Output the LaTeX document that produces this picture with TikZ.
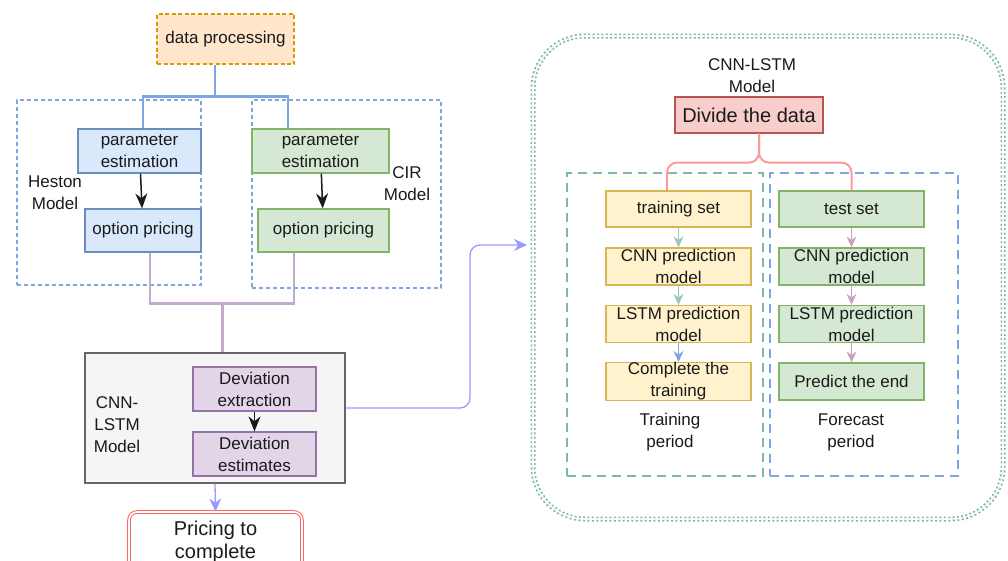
\documentclass[tikz,border=0pt]{standalone}
\usepackage{fontspec}
\setmainfont{Liberation Sans}
\usetikzlibrary{arrows.meta,calc,positioning}
\definecolor{ink}{HTML}{1A1A1A}
\definecolor{prepfill}{HTML}{FFE6CC}
\definecolor{prepline}{HTML}{D79B00}
\definecolor{hestonfill}{HTML}{DAE8FC}
\definecolor{hestonline}{HTML}{6C8EBF}
\definecolor{cirfill}{HTML}{D5E8D4}
\definecolor{cirline}{HTML}{82B366}
\definecolor{devifill}{HTML}{E1D5E7}
\definecolor{deviline}{HTML}{9673A6}
\definecolor{cnnfill}{HTML}{F5F5F5}
\definecolor{cnnline}{HTML}{666666}
\definecolor{dividefill}{HTML}{F8CECC}
\definecolor{divideline}{HTML}{B85450}
\definecolor{trainfill}{HTML}{FFF2CC}
\definecolor{trainline}{HTML}{D6B656}
\definecolor{tealline}{HTML}{7DB8A8}
\definecolor{tealarrow}{HTML}{9AC7BF}
\definecolor{groupline}{HTML}{7EA6E0}
\definecolor{mergeline}{HTML}{C3ABD0}
\definecolor{linkline}{HTML}{9999FF}
\definecolor{pinkarrow}{HTML}{CDA2BE}
\definecolor{braceline}{HTML}{FF9999}
\definecolor{priceline}{HTML}{FF6666}
\newcommand{\boxfont}{\fontsize{17}{22}\selectfont}
\newcommand{\bigfont}{\fontsize{20}{23}\selectfont}
\tikzset{
 every node/.append style={font=\boxfont,text=ink,align=center},
 box/.style={draw,line width=1.2pt,inner sep=0pt},
 prep/.style={box,draw=prepline,fill=prepfill,dash pattern=on 4pt off 2.5pt},
 heston/.style={box,draw=hestonline,fill=hestonfill,minimum height=44pt},
 cir/.style={box,draw=cirline,fill=cirfill,minimum height=44pt},
 devi/.style={box,draw=deviline,fill=devifill,minimum width=123pt,minimum height=44pt},
 cnn/.style={box,draw=cnnline,fill=cnnfill},
 divide/.style={box,draw=divideline,fill=dividefill,font=\bigfont},
 train/.style={box,draw=trainline,fill=trainfill,minimum width=145pt,minimum height=37pt},
 test/.style={box,draw=cirline,fill=cirfill,minimum width=145pt,minimum height=37pt},
 price/.style={box,draw=priceline,double=white,double distance=1.6pt,line width=1pt,rounded corners=8pt,font=\bigfont},
 group/.style={draw=groupline,dash pattern=on 4pt off 3pt,line width=1.3pt,inner sep=0pt},
 period/.style={dash pattern=on 9pt off 6pt,line width=2pt,inner sep=0pt},
 outer/.style={draw=tealline,line width=1.7pt,double=white,double distance=1.6pt,dash pattern=on 2pt off 2.4pt,rounded corners=52pt,inner sep=0pt},
 word/.style={inner sep=1pt},
 fork/.style={draw=groupline,line width=2.5pt},
 merge/.style={draw=mergeline,line width=2.5pt},
 split/.style={draw=braceline,line width=2pt,rounded corners=10pt},
 pass/.style={-{Stealth[length=15pt,width=12pt]},draw=ink,line width=1.5pt},
 soft/.style={-{Stealth[length=11pt,width=10pt]},line width=1.2pt},
 link/.style={-{Stealth[length=13pt,width=12pt]},draw=linkline,line width=1.3pt,rounded corners=10pt},
}

\begin{document}
\begin{tikzpicture}[x=1pt,y=-1pt]
\useasboundingbox (0,0) rectangle (1008,560);
\clip (0,0) rectangle (1008,560);

\node[group,minimum width=184pt,minimum height=185pt] (hestongrp) at (109,192.5) {};
\node[group,minimum width=189pt,minimum height=188pt] (cirgrp) at (346.5,194) {};
\node[word] (hestonlbl) at (55,193) {Heston\\Model};
\node[word] (cirlbl) at (407,184) {CIR\\Model};

\node[prep,minimum width=137pt,minimum height=50pt] (prep) at (225.5,39) {data processing};
\node[heston,minimum width=123pt] (hestonest) at (139.5,151) {parameter\\estimation};
\node[heston,minimum width=116pt,minimum height=43pt] (hestonopt) at (143,230.5) {option pricing};
\node[cir,minimum width=137pt] (cirest) at (320.5,151) {parameter\\estimation};
\node[cir,minimum width=131pt,minimum height=43pt] (ciropt) at (323.5,230.5) {option pricing};
\draw[fork] ([xshift=-10.5pt]prep.south) -- ++(0,33);
\draw[fork] ([xshift=3.5pt]hestonest.north) -- ++(0,-32) -| ([xshift=-32.5pt]cirest.north);
\draw[pass] (hestonest) -- (hestonopt);
\draw[pass] (cirest) -- (ciropt);

\node[cnn,minimum width=260pt,minimum height=130pt] (cnn) at (215,418) {};
\node[word] (cnnlbl) at (117,425) {CNN-\\LSTM\\Model};
\node[devi] (extract) at (254.5,389) {Deviation\\extraction};
\node[devi] (estimate) at (254.5,454) {Deviation\\estimates};
\draw[pass] (extract) -- (estimate);
\draw[merge] ([xshift=7pt]hestonopt.south) -- ++(0,51) -| ([xshift=-29.5pt]ciropt.south);
\draw[merge] ([xshift=7.5pt]cnn.north) -- ++(0,-50);

\node[price,minimum width=173pt,minimum height=60pt] (price) at (215.5,542) {Pricing to\\complete};
\draw[link] (cnn.south) -- (price.north);

\node[outer,minimum width=470pt,minimum height=483pt] (lstmbox) at (768,277.5) {};
\coordinate (entry) at (527,245);
\draw[link] ([yshift=10pt]cnn.east) -| ([xshift=-57pt]entry) -- (entry);

\node[word] (lstmlbl) at (752,76) {CNN-LSTM\\Model};
\node[divide,minimum width=148pt,minimum height=36pt] (divide) at (749,115) {Divide the data};

\node[period,draw=tealline,minimum width=196pt,minimum height=303pt] (traingrp) at (665,324.5) {};
\node[period,draw=groupline,minimum width=188pt,minimum height=303pt] (testgrp) at (864,324.5) {};

\node[train,minimum height=36pt] (trainset) at (678.5,209) {training set};
\node[train] (traincnn) at (678.5,266.5) {CNN prediction\\model};
\node[train] (trainlstm) at (678.5,324) {LSTM prediction\\model};
\node[train] (traindone) at (678.5,381.5) {Complete the\\training};
\node[word] (trainlbl) at (670,432) {Training\\period};

\node[test,minimum height=36pt] (testset) at (851.5,209) {test set};
\node[test] (testcnn) at (851.5,266.5) {CNN prediction\\model};
\node[test] (testlstm) at (851.5,324) {LSTM prediction\\model};
\node[test] (testdone) at (851.5,381.5) {Predict the end};
\node[word] (testlbl) at (851,432) {Forecast\\period};

\draw[split] ([xshift=10pt]divide.south) -- ++(0,29) -| ([xshift=-11.5pt]trainset.north);
\draw[split] ([xshift=10pt]divide.south) -- ++(0,29) -| (testset.north);

\draw[soft,draw=tealarrow] (trainset) -- (traincnn);
\draw[soft,draw=tealarrow] (traincnn) -- (trainlstm);
\draw[soft,draw=groupline] (trainlstm) -- (traindone);
\draw[soft,draw=pinkarrow] (testset) -- (testcnn);
\draw[soft,draw=pinkarrow] (testcnn) -- (testlstm);
\draw[soft,draw=pinkarrow] (testlstm) -- (testdone);

\end{tikzpicture}
\end{document}
